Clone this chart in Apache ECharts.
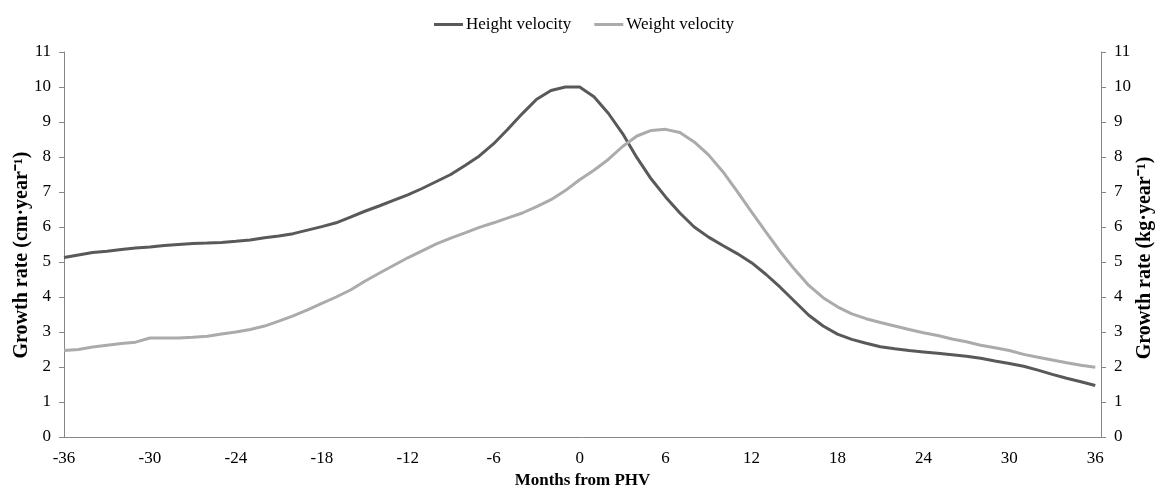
<!DOCTYPE html>
<html>
<head>
<meta charset="utf-8">
<script src="https://cdn.jsdelivr.net/npm/echarts@6/dist/echarts.min.js"></script>
<style>
html,body{margin:0;padding:0;background:#fff;}
#chart{width:1168px;height:489px;}
</style>
</head>
<body>
<div id="chart"></div>
<script>
// Months from PHV
const months = [-36,-35,-34,-33,-32,-31,-30,-29,-28,-27,-26,-25,-24,-23,-22,-21,-20,-19,-18,-17,-16,-15,-14,-13,-12,-11,-10,-9,-8,-7,-6,-5,-4,-3,-2,-1,0,1,2,3,4,5,6,7,8,9,10,11,12,13,14,15,16,17,18,19,20,21,22,23,24,25,26,27,28,29,30,31,32,33,34,35,36];
// Height velocity (cm/year)
const heightVelocity = [5.13,5.20,5.27,5.31,5.36,5.40,5.43,5.47,5.50,5.53,5.54,5.56,5.59,5.63,5.69,5.74,5.81,5.91,6.01,6.12,6.28,6.45,6.60,6.76,6.92,7.10,7.30,7.50,7.76,8.03,8.38,8.80,9.24,9.65,9.90,10.00,10.00,9.72,9.25,8.67,7.98,7.37,6.86,6.40,6.00,5.71,5.47,5.24,4.98,4.65,4.28,3.88,3.48,3.17,2.94,2.79,2.68,2.58,2.52,2.47,2.43,2.39,2.35,2.31,2.25,2.17,2.10,2.02,1.91,1.79,1.68,1.58,1.47];
// Weight velocity (kg/year)
const weightVelocity = [2.47,2.50,2.57,2.62,2.67,2.71,2.83,2.83,2.83,2.85,2.88,2.94,3.00,3.07,3.17,3.31,3.46,3.63,3.82,4.00,4.20,4.45,4.68,4.90,5.12,5.32,5.52,5.68,5.83,5.99,6.12,6.26,6.40,6.58,6.78,7.04,7.35,7.62,7.93,8.30,8.60,8.76,8.79,8.70,8.43,8.06,7.58,7.02,6.43,5.86,5.30,4.79,4.33,3.98,3.72,3.52,3.38,3.27,3.17,3.07,2.98,2.90,2.80,2.72,2.62,2.55,2.47,2.36,2.28,2.20,2.12,2.05,1.99];
const seriesNames = ['Height velocity', 'Weight velocity'];
const xTitle = 'Months from PHV';
const yLeftTitle = 'Growth rate (cm\u00B7year\u207B\u00B9)';
const yRightTitle = 'Growth rate (kg\u00B7year\u207B\u00B9)';

const FONT = '"Liberation Serif", "Times New Roman", serif';
const chart = echarts.init(document.getElementById('chart'), null, {renderer: 'canvas'});

const yCommon = {
  type: 'value', min: 0, max: 11, interval: 1,
  axisLine: {show: true, onZero: false, lineStyle: {color: '#868686', width: 1}},
  axisTick: {show: true, length: 5, lineStyle: {color: '#868686'}},
  splitLine: {show: false},
  axisLabel: {fontFamily: FONT, fontSize: 17, color: '#000', margin: 13},
  nameLocation: 'middle',
  nameRotate: 90,
  nameMoveOverlap: false,
  nameTextStyle: {fontFamily: FONT, fontSize: 20, fontWeight: 'bold', color: '#000'}
};

chart.setOption({
  animation: false,
  backgroundColor: '#fff',
  textStyle: {fontFamily: FONT},
  legend: {
    top: 11, left: 'center',
    itemWidth: 29, itemHeight: 3, itemGap: 23,
    icon: 'rect',
    textStyle: {fontFamily: FONT, fontSize: 17, color: '#000', padding: [0, 0, 0, -2]},
    data: seriesNames
  },
  grid: {left: 64, right: 67, top: 52, bottom: 52, outerBoundsMode: 'none', containLabel: false},
  xAxis: {
    type: 'value', min: -36, max: 36.4, interval: 6,
    axisLine: {show: true, onZero: false, lineStyle: {color: '#868686', width: 1}},
    axisTick: {show: false},
    splitLine: {show: false},
    axisLabel: {
      fontFamily: FONT, fontSize: 17, color: '#000', margin: 13,
      formatter: v => (Math.abs(v % 6) < 1e-9 ? String(v) : '')
    },
    name: xTitle, nameLocation: 'middle', nameGap: 35,
    nameMoveOverlap: false,
    nameTextStyle: {fontFamily: FONT, fontSize: 17, fontWeight: 'bold', color: '#000'}
  },
  yAxis: [
    Object.assign({}, yCommon, {position: 'left', name: yLeftTitle, nameGap: 32,
      nameTextStyle: Object.assign({}, yCommon.nameTextStyle, {padding: [0, 21, 0, 0]})}),
    Object.assign({}, yCommon, {position: 'right', name: yRightTitle, nameGap: 34,
      nameTextStyle: Object.assign({}, yCommon.nameTextStyle, {padding: [0, 27, 0, 0]})})
  ],
  series: [
    {
      name: seriesNames[0], type: 'line', yAxisIndex: 0,
      data: months.map((m, i) => [m, heightVelocity[i]]),
      showSymbol: false, symbol: 'none',
      lineStyle: {color: '#595959', width: 3},
      itemStyle: {color: '#595959'}
    },
    {
      name: seriesNames[1], type: 'line', yAxisIndex: 1,
      data: months.map((m, i) => [m, weightVelocity[i]]),
      showSymbol: false, symbol: 'none',
      lineStyle: {color: '#ababab', width: 3},
      itemStyle: {color: '#ababab'}
    }
  ]
});
</script>
</body>
</html>
